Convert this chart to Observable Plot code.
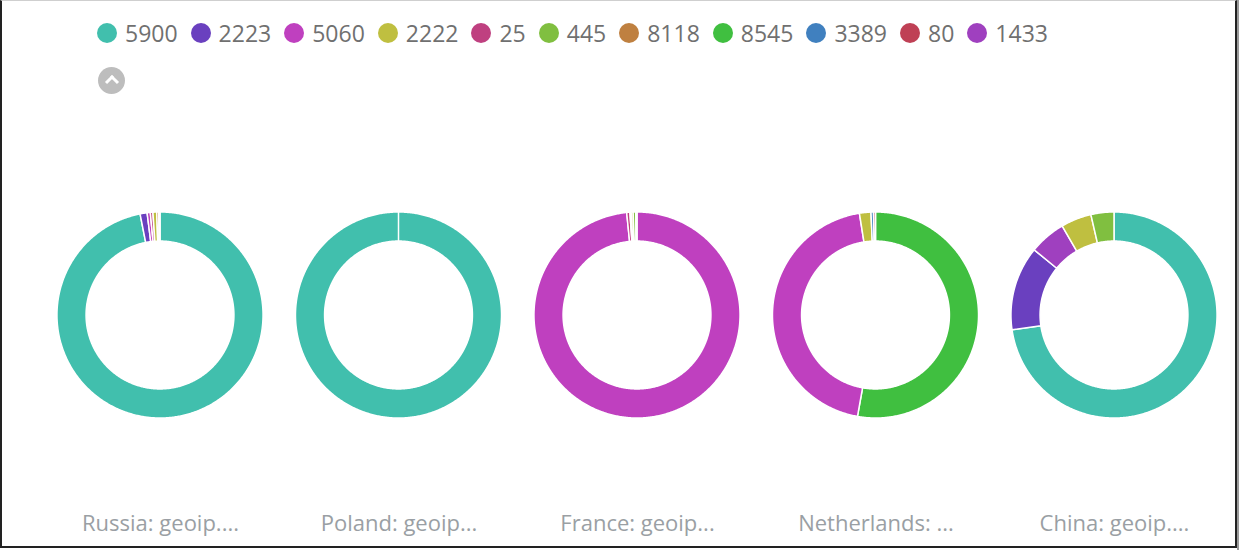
<!DOCTYPE html>
<html>
<head>
<meta charset="utf-8">
<script src="https://cdn.jsdelivr.net/npm/d3@7"></script>
<script src="https://cdn.jsdelivr.net/npm/@observablehq/plot@0.6"></script>
<style>
  html, body { margin: 0; padding: 0; background: #fff; }
  body { width: 1239px; height: 550px; position: relative; overflow: hidden; font-family: "Open Sans", sans-serif; }
  #legend { position: relative; height: 110px; }
  #items { position: absolute; left: 97px; top: 20px; display: flex; align-items: center; white-space: nowrap; }
  .item { display: flex; align-items: center; margin-right: 13px; }
  .dot { width: 20px; height: 20px; border-radius: 50%; margin-right: 8px; }
  .lab { font-size: 23px; color: #707070; line-height: 26px; }
  #toggle { position: absolute; left: 98px; top: 67px; width: 27px; height: 27px; border-radius: 50%; background: #bdbdbd; }
  #toggle::after { content: ""; position: absolute; left: 9px; top: 10px; width: 7px; height: 7px; border-left: 3px solid #fff; border-top: 3px solid #fff; transform: rotate(45deg); }
  #frame { position: absolute; left: 0; top: 0; width: 1237px; height: 548px; box-sizing: border-box; border-left: 2px solid #222; border-top: 1px solid #cfcfcf; border-right: 2px solid #222; border-bottom: 2px solid #222; pointer-events: none; }
  #shade { position: absolute; left: 1237px; top: 0; width: 2px; height: 550px; background: #9a9a9a; }
  #chart svg { display: block; }
</style>
</head>
<body>
<div id="legend"><div id="items"></div><div id="toggle"></div></div>
<div id="chart"></div>
<div id="frame"></div>
<div id="shade"></div>
<script>
// ---- data ----
const legendKeys = ["5900", "2223", "5060", "2222", "25", "445", "8118", "8545", "3389", "80", "1433"];
const legendColors = ["#41bfad", "#6a40bf", "#bf40bf", "#bfbf40", "#bf4080", "#80bf40", "#bf8040", "#40bf40", "#4080bf", "#bf4055", "#9f40bf"];

const donutLabels = ["Russia: geoip....", "Poland: geoip...", "France: geoip...", "Netherlands: ...", "China: geoip...."];

const russiaKeys = ["5900", "2223", "5060", "25", "2222", "8118", "80"];
const russiaShares = [96.9, 1.1, 0.5, 0.4, 0.6, 0.3, 0.2];

const polandKeys = ["5900"];
const polandShares = [100];

const franceKeys = ["5060", "25", "5900", "2222", "445", "80"];
const franceShares = [98.4, 0.5, 0.2, 0.3, 0.4, 0.2];

const netherlandsKeys = ["8545", "5060", "2222", "3389", "80"];
const netherlandsShares = [52.8, 44.7, 1.8, 0.4, 0.3];

const chinaKeys = ["5900", "2223", "1433", "2222", "445"];
const chinaShares = [72.7, 13.2, 5.7, 4.8, 3.6];

const donutKeys = [russiaKeys, polandKeys, franceKeys, netherlandsKeys, chinaKeys];
const donutShares = [russiaShares, polandShares, franceShares, netherlandsShares, chinaShares];

// ---- legend ----
const items = document.getElementById("items");
legendKeys.forEach((k, i) => {
  const it = document.createElement("div"); it.className = "item";
  const dot = document.createElement("div"); dot.className = "dot"; dot.style.background = legendColors[i];
  const lab = document.createElement("span"); lab.className = "lab"; lab.textContent = k;
  it.appendChild(dot); it.appendChild(lab); items.appendChild(it);
});

// ---- geometry (donut units: 1 unit = spacing between donut centres) ----
const outerR = 0.432, innerR = 0.31, labelDrop = 0.876;
const rows = [];
donutShares.forEach((shares, d) => {
  const total = d3.sum(shares);
  let acc = 0;
  shares.forEach((v, s) => {
    const a0 = acc / total * 2 * Math.PI;
    acc += v;
    const a1 = acc / total * 2 * Math.PI;
    const n = Math.max(2, Math.ceil((a1 - a0) / 0.01));
    for (let j = 0; j <= n; j++) {
      const a = a0 + (a1 - a0) * j / n;
      rows.push({
        slice: d + "-" + s,
        key: donutKeys[d][s],
        x1: d + outerR * Math.sin(a), y1: -outerR * Math.cos(a),
        x2: d + innerR * Math.sin(a), y2: -innerR * Math.cos(a)
      });
    }
  });
});

const chart = Plot.plot({
  width: 1239,
  height: 440,
  margin: 0,
  x: { type: "linear", domain: [-160 / 238.5, 1079 / 238.5], range: [0, 1239], axis: null },
  y: { type: "linear", domain: [-205 / 238.5, 235 / 238.5], range: [0, 440], axis: null },
  color: { type: "ordinal", domain: legendKeys, range: legendColors },
  style: { background: "transparent", fontFamily: "Open Sans, sans-serif" },
  marks: [
    Plot.area(rows, { x1: "x1", y1: "y1", x2: "x2", y2: "y2", z: "slice", fill: "key", stroke: "#fff", strokeWidth: 1.5, curve: "linear" }),
    Plot.text(donutLabels, { x: (d, i) => i, y: () => labelDrop, text: d => d, fontSize: 22, fill: "#9a9fa4" })
  ]
});
document.getElementById("chart").appendChild(chart);
</script>
</body>
</html>
